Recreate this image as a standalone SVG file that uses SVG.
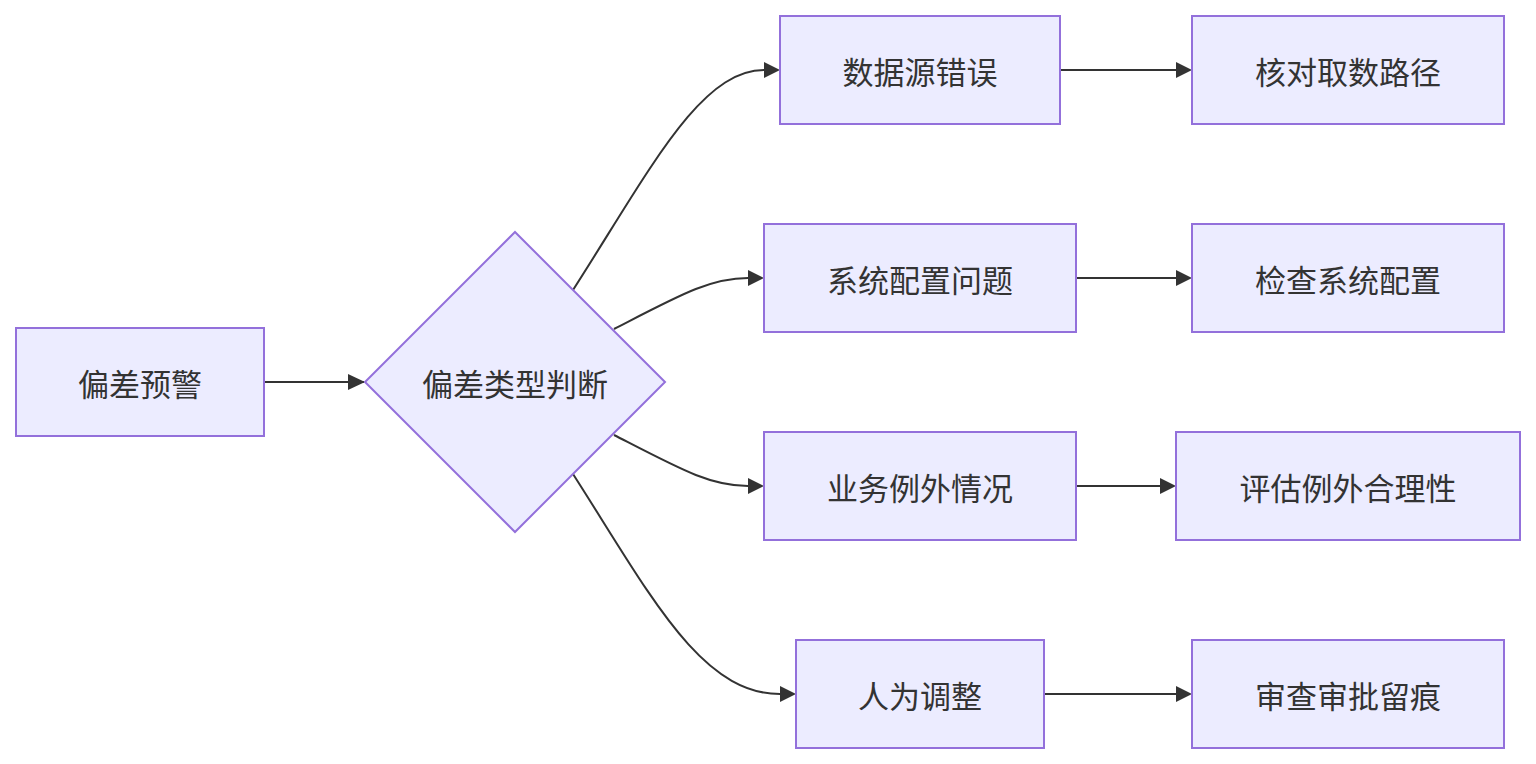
<svg xmlns="http://www.w3.org/2000/svg" width="1536" height="764" viewBox="0 0 1536 764">
<style>
.n{fill:#ECECFF;stroke:#9370DB;stroke-width:2}
.t{font-family:"Noto Sans CJK SC","Noto Sans",sans-serif;font-size:31px;fill:#333;text-anchor:middle;dominant-baseline:central}
.e{fill:none;stroke:#333;stroke-width:2;marker-end:url(#a)}
</style>
<defs><marker id="a" viewBox="0 0 10 10" refX="9" refY="5" markerWidth="8" markerHeight="8" markerUnits="userSpaceOnUse" orient="auto"><path d="M0,0L10,5L0,10z" fill="#333"/></marker></defs>
<rect width="1536" height="764" fill="#fff"/>
<g id="edges">
<path class="e" d="M264,382H364" style="marker-end:none"/>
<path d="M348,374L365,382L348,390z" fill="#333"/>
<path class="e" d="M573,290C650,170 700,70 764,70" style="marker-end:none"/><path d="M764,62L780,70L764,78z" fill="#333"/>
<path class="e" d="M614,329C680,295 710,278 748,278" style="marker-end:none"/><path d="M748,270L764,278L748,286z" fill="#333"/>
<path class="e" d="M614,435C680,469 710,486 748,486" style="marker-end:none"/><path d="M748,478L764,486L748,494z" fill="#333"/>
<path class="e" d="M573,474C650,594 700,694 780,694" style="marker-end:none"/><path d="M780,686L796,694L780,702z" fill="#333"/>
<path d="M1060,70H1176" fill="none" stroke="#333" stroke-width="2"/><path d="M1176,62L1192,70L1176,78z" fill="#333"/>
<path d="M1076,278H1176" fill="none" stroke="#333" stroke-width="2"/><path d="M1176,270L1192,278L1176,286z" fill="#333"/>
<path d="M1076,486H1160" fill="none" stroke="#333" stroke-width="2"/><path d="M1160,478L1176,486L1160,494z" fill="#333"/>
<path d="M1044,694H1176" fill="none" stroke="#333" stroke-width="2"/><path d="M1176,686L1192,694L1176,702z" fill="#333"/>
</g>
<g id="A"><rect class="n" x="16" y="328" width="248" height="108"/><text class="t" x="140" y="382">偏差预警</text></g>
<g id="D"><path class="n" d="M515,232L665,382L515,532L365,382z"/><text class="t" x="515" y="382">偏差类型判断</text></g>
<g id="B1"><rect class="n" x="780" y="16" width="280" height="108"/><text class="t" x="920" y="70">数据源错误</text></g>
<g id="B2"><rect class="n" x="764" y="224" width="312" height="108"/><text class="t" x="920" y="278">系统配置问题</text></g>
<g id="B3"><rect class="n" x="764" y="432" width="312" height="108"/><text class="t" x="920" y="486">业务例外情况</text></g>
<g id="B4"><rect class="n" x="796" y="640" width="248" height="108"/><text class="t" x="920" y="694">人为调整</text></g>
<g id="C1"><rect class="n" x="1192" y="16" width="312" height="108"/><text class="t" x="1348" y="70">核对取数路径</text></g>
<g id="C2"><rect class="n" x="1192" y="224" width="312" height="108"/><text class="t" x="1348" y="278">检查系统配置</text></g>
<g id="C3"><rect class="n" x="1176" y="432" width="344" height="108"/><text class="t" x="1348" y="486">评估例外合理性</text></g>
<g id="C4"><rect class="n" x="1192" y="640" width="312" height="108"/><text class="t" x="1348" y="694">审查审批留痕</text></g>
</svg>
